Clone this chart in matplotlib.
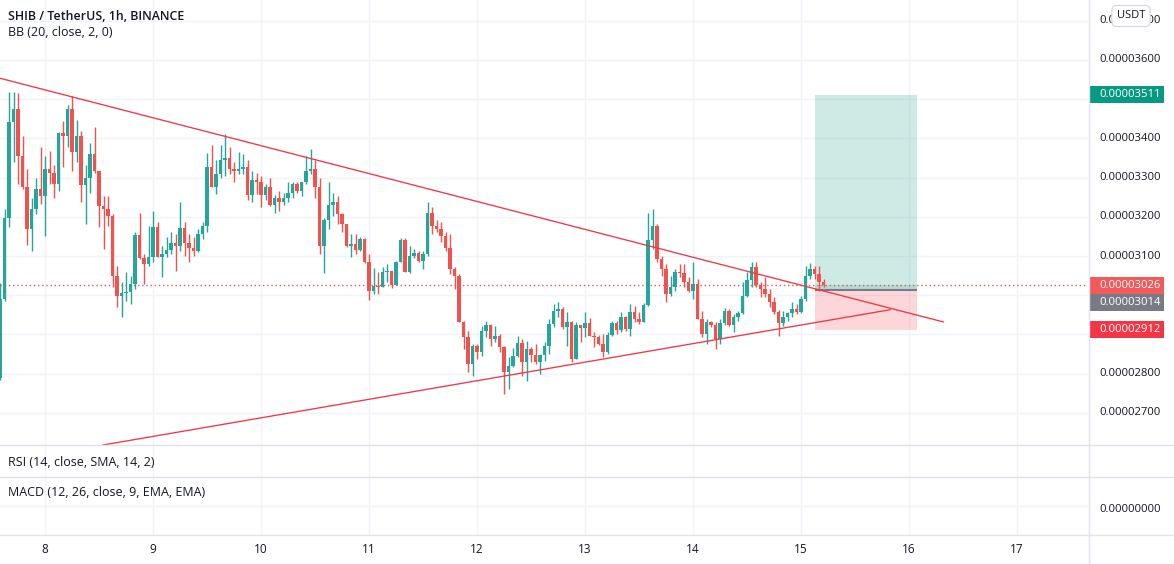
import numpy as np
import matplotlib.pyplot as plt
from matplotlib.patches import Rectangle
from matplotlib.lines import Line2D

plt.rcParams['font.family'] = ['Open Sans', 'DejaVu Sans']

# SHIB/USDT 1h candles, prices in 1e-8 USDT; candle 0 = Dec 7 14:00
first_open = 2790
closes = [2990, 3198, 3443, 3476, 3354, 3277, 3168, 3219, 3270, 3252,
          3323, 3313, 3283, 3415, 3405, 3476, 3366, 3407, 3280, 3300,
          3359, 3316, 3227, 3221, 3201, 3048, 2998, 3005, 3008, 3028,
          3153, 3094, 3079, 3097, 3173, 3097, 3104, 3115, 3132, 3125,
          3171, 3132, 3120, 3112, 3155, 3176, 3326, 3277, 3308, 3346,
          3349, 3321, 3316, 3323, 3328, 3255, 3295, 3290, 3255, 3277,
          3229, 3249, 3237, 3249, 3260, 3283, 3267, 3288, 3318, 3321,
          3277, 3125, 3193, 3229, 3237, 3206, 3181, 3125, 3130, 3115,
          3143, 3084, 3010, 3023, 3021, 3059, 3061, 3025, 3084, 3140,
          3059, 3099, 3107, 3087, 3104, 3211, 3176, 3168, 3150, 3120,
          3066, 3048, 2931, 2893, 2824, 2870, 2855, 2908, 2924, 2888,
          2896, 2868, 2804, 2819, 2845, 2878, 2829, 2863, 2847, 2829,
          2847, 2870, 2926, 2959, 2964, 2919, 2931, 2837, 2924, 2916,
          2929, 2896, 2893, 2875, 2855, 2898, 2929, 2911, 2944, 2913,
          2957, 2939, 2931, 2975, 3140, 3176, 3092, 3066, 3003, 3020,
          3059, 3057, 3033, 3010, 3028, 2939, 2901, 2931, 2924, 2888,
          2929, 2959, 2924, 2944, 2954, 2998, 3038, 3071, 3025, 3015,
          3003, 2982, 2957, 2929, 2944, 2954, 2964, 2957, 2990, 3048,
          3066, 3054, 3033, 3026]
highs = [3030, 3219, 3519, 3519, 3517, 3405, 3323, 3247, 3300, 3379,
         3354, 3369, 3333, 3417, 3445, 3484, 3509, 3448, 3420, 3331,
         3387, 3430, 3316, 3252, 3252, 3206, 3074, 3033, 3059, 3048,
         3160, 3209, 3104, 3176, 3214, 3186, 3125, 3148, 3160, 3155,
         3239, 3188, 3155, 3148, 3168, 3188, 3364, 3384, 3346, 3384,
         3410, 3379, 3341, 3366, 3359, 3346, 3316, 3313, 3303, 3283,
         3300, 3255, 3265, 3262, 3288, 3290, 3288, 3290, 3354, 3372,
         3346, 3300, 3198, 3288, 3262, 3252, 3211, 3181, 3155, 3155,
         3148, 3145, 3104, 3069, 3059, 3071, 3079, 3061, 3087, 3145,
         3145, 3125, 3117, 3112, 3112, 3239, 3224, 3193, 3188, 3160,
         3155, 3071, 3054, 2934, 2908, 2875, 2875, 2921, 2934, 2926,
         2921, 2901, 2870, 2842, 2865, 2896, 2888, 2883, 2868, 2875,
         2850, 2881, 2939, 2977, 2982, 2969, 2957, 2934, 2931, 2924,
         2957, 2942, 2906, 2898, 2901, 2906, 2934, 2934, 2957, 2947,
         2977, 2972, 2957, 2980, 3211, 3219, 3181, 3099, 3079, 3048,
         3066, 3079, 3079, 3046, 3084, 3041, 2959, 2939, 2934, 2931,
         2939, 2967, 2964, 2952, 2959, 3033, 3059, 3084, 3084, 3033,
         3046, 3015, 2995, 2962, 2959, 2957, 2982, 2977, 2998, 3074,
         3081, 3074, 3074, 3041]
lows = [2785, 2985, 3173, 3341, 3283, 3270, 3127, 3112, 3206, 3232,
        3150, 3283, 3249, 3267, 3328, 3379, 3316, 3341, 3237, 3181,
        3262, 3313, 3173, 3117, 3176, 3020, 2969, 2944, 2985, 2977,
        3015, 3092, 3028, 3074, 3084, 3097, 3046, 3097, 3104, 3061,
        3112, 3099, 3084, 3099, 3109, 3143, 3160, 3275, 3257, 3300,
        3303, 3308, 3290, 3310, 3308, 3244, 3239, 3257, 3224, 3244,
        3227, 3209, 3216, 3229, 3237, 3249, 3262, 3252, 3283, 3308,
        3247, 3104, 3056, 3168, 3201, 3181, 3160, 3122, 3097, 3104,
        3112, 3081, 2987, 3003, 3003, 3023, 3033, 3018, 3028, 3084,
        3059, 3056, 3094, 3084, 3066, 3099, 3155, 3160, 3135, 3112,
        3054, 3015, 2931, 2863, 2804, 2794, 2837, 2845, 2893, 2870,
        2881, 2855, 2748, 2761, 2817, 2842, 2794, 2781, 2829, 2824,
        2799, 2832, 2850, 2919, 2944, 2913, 2870, 2829, 2837, 2881,
        2893, 2896, 2868, 2873, 2842, 2850, 2896, 2901, 2906, 2908,
        2896, 2931, 2926, 2931, 2972, 3117, 3084, 3048, 2982, 2998,
        3010, 3046, 3020, 3008, 2990, 2939, 2893, 2875, 2919, 2863,
        2875, 2924, 2921, 2906, 2934, 2952, 2995, 3020, 3020, 2995,
        2995, 2969, 2952, 2896, 2921, 2934, 2944, 2952, 2954, 2985,
        3041, 3041, 3010, 3020]

day_labels = ['8', '9', '10', '11', '12', '13', '14', '15', '16', '17']
first_day_index = 10  # candle index of Dec 8 00:00

# drawings (x in candle index, y in 1e-8 USDT)
desc_trend_x = [-0.2, 209.6]
desc_trend_y = [3554, 2932]
asc_trend_x = [22.9, 197.8]
asc_trend_y = [2618, 2963]

pos_start, pos_end = 181.1, 203.8
target_price, entry_price, stop_price = 3511, 3014, 2912
last_price = 3026

scale_ticks = [2700, 2800, 3100, 3200, 3300, 3400, 3600, 3700]
grid_prices = list(range(2700, 3800, 100))

TEXT = '#131722'
GRID = '#f0f3fa'
BORDER = '#e0e3eb'
UP = '#26a69a'
DOWN = '#ef5350'

W, H = 1174, 564
fig = plt.figure(figsize=(W / 100, H / 100), dpi=100)


def rect(x0, y0, x1, y1):
    return [x0 / W, 1 - y1 / H, (x1 - x0) / W, (y1 - y0) / H]


def blank(a):
    a.set_xticks([])
    a.set_yticks([])
    for s in a.spines.values():
        s.set_visible(False)
    a.patch.set_alpha(0)


ylo, yhi = 2618, 3753
xmax = 1088 / 4.5
day_pos = [first_day_index + 24 * k for k in range(len(day_labels))]

ax = fig.add_axes(rect(0, 0, 1088, 445))
ax_rsi = fig.add_axes(rect(0, 445, 1088, 477))
ax_macd = fig.add_axes(rect(0, 477, 1088, 535))
ax_time = fig.add_axes(rect(0, 535, 1088, 564))
ax_scale = fig.add_axes(rect(1088, 0, 1174, 445))
for a in (ax, ax_rsi, ax_macd, ax_time, ax_scale):
    blank(a)
for a in (ax, ax_rsi, ax_macd, ax_time):
    a.set_xlim(0, xmax)
ax.set_ylim(ylo, yhi)
ax_scale.set_ylim(ylo, yhi)
ax_scale.set_xlim(0, 86)
ax_macd.set_ylim(-1, 1)
ax_time.set_ylim(0, 1)

# grid
for a in (ax, ax_rsi, ax_macd):
    for d in day_pos:
        a.axvline(d, color=GRID, lw=1, zorder=0)
for p in grid_prices:
    ax.axhline(p, color=GRID, lw=1, zorder=0)
ax_macd.axhline(0, color=GRID, lw=1, zorder=0)

# long position tool
w = pos_end - pos_start
ax.add_patch(Rectangle((pos_start, entry_price), w, target_price - entry_price,
                       fc='#089981', alpha=0.2, ec='none', zorder=1))
ax.add_patch(Rectangle((pos_start, stop_price), w, entry_price - stop_price,
                       fc='#f23645', alpha=0.2, ec='none', zorder=1))
ax.add_patch(Rectangle((pos_start, entry_price), w, last_price - entry_price,
                       fc='#089981', alpha=0.15, ec='none', zorder=1))
ax.hlines(entry_price, pos_start, pos_end, color='#787b86', lw=1.5, zorder=2)

# candles
closes = np.array(closes, dtype=float)
opens = np.r_[first_open, closes[:-1]]
highs = np.maximum(np.array(highs, dtype=float), np.maximum(opens, closes))
lows = np.minimum(np.array(lows, dtype=float), np.minimum(opens, closes))
idx = np.arange(len(closes))
cols = np.where(closes >= opens, UP, DOWN)
ax.vlines(idx, lows, highs, colors=cols, lw=1, zorder=3)
ax.bar(idx, np.maximum(np.abs(closes - opens), 2.5), bottom=np.minimum(opens, closes),
       width=0.7, color=cols, zorder=4)

# trend lines and last price
ax.plot(desc_trend_x, desc_trend_y, color='#f23645', lw=0.95, zorder=5)
ax.plot(asc_trend_x, asc_trend_y, color='#f23645', lw=0.95, zorder=5)
ax.axhline(last_price, color=DOWN, lw=1, ls=(0, (1, 2)), zorder=2)

# price scale
for p in scale_ticks:
    ax_scale.text(11, p, f'{p * 1e-8:.8f}', va='center', ha='left', fontsize=8.1, color=TEXT)
lab_h = 17 * (yhi - ylo) / 445
labels = [(target_price, target_price, '#089981'),
          (last_price, last_price, '#f05a5a'),
          (entry_price, last_price - lab_h, '#787b86'),
          (stop_price, stop_price, '#f23645')]
for val, pos, c in labels:
    ax_scale.add_patch(Rectangle((2, pos - lab_h / 2), 74, lab_h, fc=c, ec='none', clip_on=False))
    ax_scale.text(11, pos, f'{val * 1e-8:.8f}', va='center', ha='left', fontsize=8.1, color='white')
fig.text(1099 / W, 1 - 509 / H, '0.00000000', va='center', ha='left', fontsize=8.1, color=TEXT)
# currency badge sits on top of the 0.00003700 label, as on the original
fig.text(1131 / W, 1 - 16 / H, 'USDT', va='center', ha='center', fontsize=8, color=TEXT,
         bbox=dict(boxstyle='round,pad=0.45', fc='white', ec='#d1d4dc', lw=0.8), zorder=10)

# time scale
for d, lab in zip(day_pos, day_labels):
    ax_time.text(d, 0.5, lab, ha='center', va='center', fontsize=8.5, color=TEXT)

# pane borders
for y in (445, 477, 535):
    fig.add_artist(Line2D([0, 1], [1 - y / H] * 2, color=BORDER, lw=1))
fig.add_artist(Line2D([1088.5 / W] * 2, [0, 1], color=BORDER, lw=1))

# legends
fig.text(8 / W, 1 - 17 / H, 'SHIB / TetherUS, 1h, BINANCE', va='center', ha='left',
         fontsize=8.9, weight='semibold', color=TEXT)
fig.text(8 / W, 1 - 33 / H, 'BB (20, close, 2, 0)', va='center', ha='left', fontsize=9, color=TEXT)
fig.text(8 / W, 1 - 463 / H, 'RSI (14, close, SMA, 14, 2)', va='center', ha='left', fontsize=9, color=TEXT)
fig.text(8 / W, 1 - 493 / H, 'MACD (12, 26, close, 9, EMA, EMA)', va='center', ha='left', fontsize=9, color=TEXT)

fig.savefig('out.png', dpi=100)
